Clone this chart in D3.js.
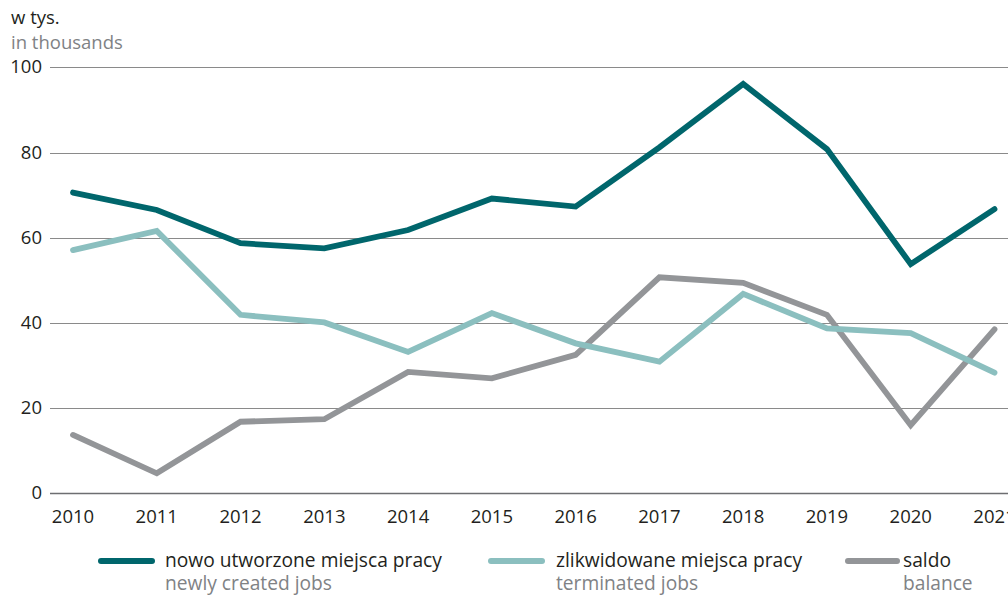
<!DOCTYPE html>
<html><head><meta charset="utf-8">
<script src="https://cdn.jsdelivr.net/npm/d3@7"></script>
<style>
html,body{margin:0;padding:0;background:#fff;overflow:hidden;}
svg{display:block;font-family:"Open Sans","Noto Sans",sans-serif;}
</style></head>
<body>
<script>
const years = [2010,2011,2012,2013,2014,2015,2016,2017,2018,2019,2020,2021];
const newlyCreated = [70.6,66.5,58.7,57.5,61.8,69.2,67.3,81.2,96.1,80.8,53.8,66.7];
const terminated   = [57.1,61.6,41.9,40.1,33.2,42.3,35.2,30.9,46.8,38.7,37.6,28.3];
const balance      = [13.7,4.7,16.8,17.4,28.5,27.0,32.5,50.7,49.4,41.9,16.0,38.5];
const yTicks = [0,20,40,60,80,100];
const seriesNames = ["nowo utworzone miejsca pracy","zlikwidowane miejsca pracy","saldo"];
const seriesNamesEn = ["newly created jobs","terminated jobs","balance"];
const colors = ["#00666c","#8bbfbf","#939598"];

const W=1008,H=595;
const svg=d3.select("body").append("svg").attr("width",W).attr("height",H);
const x=d3.scalePoint().domain(years).range([73,994.5]);
const y=d3.scaleLinear().domain([0,100]).range([493.3,67.3]);

// gridlines
svg.append("g").selectAll("line").data(yTicks).join("line")
  .attr("x1",50).attr("x2",W).attr("y1",d=>Math.round(y(d))+0.5).attr("y2",d=>Math.round(y(d))+0.5)
  .attr("stroke",d=>d===0?"#6d6e71":"#8a8a8a").attr("stroke-width",d=>d===0?1.5:1);

// y labels
svg.append("g").selectAll("text").data(yTicks).join("text")
  .attr("x",42).attr("y",d=>y(d)+6).attr("text-anchor","end")
  .attr("font-size",18.5).attr("fill","#231f20").text(d=>d);

// x labels
svg.append("g").selectAll("text").data(years).join("text")
  .attr("x",d=>x(d)).attr("y",523).attr("text-anchor","middle")
  .attr("font-size",18.5).attr("fill","#231f20").text(d=>d);

// unit titles
svg.append("text").attr("x",11).attr("y",24).attr("font-size",18.5).attr("fill","#231f20").text("w tys.");
svg.append("text").attr("x",11).attr("y",49).attr("font-size",18.5).attr("fill","#808285").text("in thousands");

const data=[newlyCreated,terminated,balance];
const line=d3.line().x((d,i)=>x(years[i])).y(d=>y(d));
// draw order: balance, terminated, newly
[2,1,0].forEach(k=>{
  svg.append("path").datum(data[k]).attr("d",line).attr("fill","none")
    .attr("stroke",colors[k]).attr("stroke-width",5.8)
    .attr("stroke-linejoin","miter").attr("stroke-linecap","round");
});

// legend
const legX=[[101,152,165],[491,542,556],[848,897,903]];
legX.forEach((p,k)=>{
  svg.append("line").attr("x1",p[0]).attr("x2",p[1]).attr("y1",561).attr("y2",561)
    .attr("stroke",colors[k]).attr("stroke-width",6).attr("stroke-linecap","round");
  svg.append("text").attr("x",p[2]).attr("y",567).attr("font-size",19.2).attr("fill","#231f20").text(seriesNames[k]);
  svg.append("text").attr("x",p[2]).attr("y",590).attr("font-size",19.2).attr("fill","#808285").text(seriesNamesEn[k]);
});
</script>
</body></html>
